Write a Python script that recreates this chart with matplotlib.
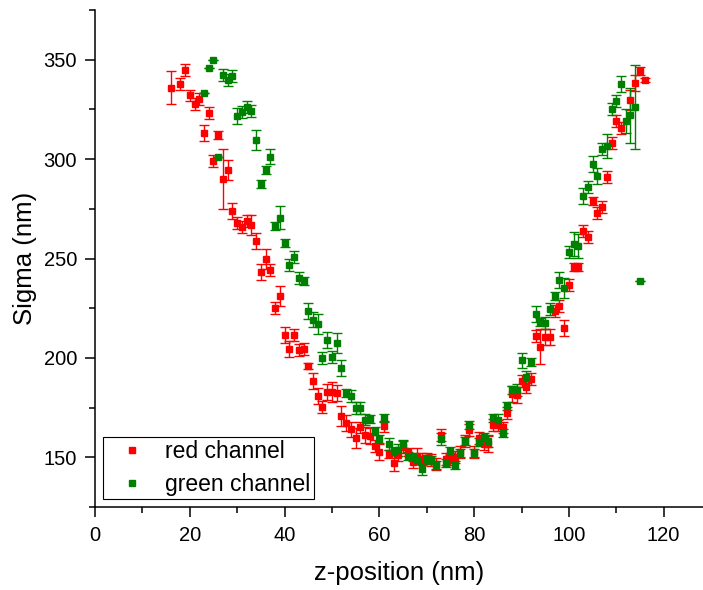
import numpy as np
import matplotlib.pyplot as plt

plt.rcParams['font.family'] = ['Liberation Sans', 'DejaVu Sans']

# red channel: z-position (nm), sigma (nm), error
red_z = [16, 18, 19, 20, 21, 22, 23, 24, 25, 26, 27, 28, 29, 30, 31, 32, 33, 34, 35, 36,
         37, 38, 39, 40, 41, 42, 43, 44, 45, 46, 47, 48, 49, 50, 51, 52, 53, 54, 55, 56,
         57, 58, 59, 60, 61, 62, 63, 64, 65, 66, 67, 68, 69, 70, 71, 72, 73, 74, 75, 76,
         77, 78, 79, 80, 81, 82, 83, 84, 85, 86, 87, 88, 89, 90, 91, 92, 93, 94, 95, 96,
         97, 98, 99, 100, 101, 102, 103, 104, 105, 106, 107, 108, 109, 110, 111, 113, 114, 115, 116]
red_sigma = [336, 338, 345, 332, 327.6, 330, 313, 323, 299, 312, 290, 294.7, 274, 268, 265.7, 269, 267, 259, 243, 249.6,
             244, 225, 231, 211.4, 204.6, 211.7, 204, 204.6, 196, 188.3, 181, 175.4, 183, 183, 182.4, 170.8, 167.4, 164, 159.5, 165,
             161, 160.8, 155.7, 152.8, 165.5, 151.7, 147.3, 151.3, 155.3, 152.7, 147.7, 150.8, 149, 149.4, 148.5, 146.4, 161, 149.3, 149.3, 150,
             152.7, 158, 163.5, 152.7, 159.7, 156.5, 156.5, 166.3, 166, 165, 172.5, 182, 181.5, 188.6, 185.4, 189.6, 210.8, 205.7, 210.4, 210.4,
             223.5, 226, 215, 236.7, 245.5, 245.5, 264, 260.6, 279, 272.7, 275.8, 291, 308, 319.3, 315.5, 329.7, 338.3, 344.5, 340]
red_err = [8.5, 3, 3, 3, 3, 3, 4, 3, 3, 2, 15, 5, 4, 3, 3, 3, 5, 4, 4, 5,
           3, 3, 5, 4, 4, 3, 3, 3, 1.5, 4, 4, 3, 4, 5, 4, 5, 4, 4, 5, 3,
           4, 4, 3, 4, 3, 2, 4, 3, 3, 2, 3, 4, 3, 3, 3, 3, 3, 3, 3, 3,
           3, 3, 3, 3, 3, 3, 4, 3, 3, 3, 3, 4, 4, 3, 3, 3, 3, 9, 4, 4,
           3, 3, 4, 3, 2, 2, 3, 3, 2, 3, 3, 3, 3, 3, 3, 5, 4, 2, 1]

# green channel
green_z = [23, 24, 25, 26, 27, 28, 29, 30, 31, 32, 33, 34, 35, 36, 37, 38, 39, 40, 41, 42,
           43, 44, 45, 46, 47, 48, 49, 50, 51, 52, 53, 54, 55, 56, 57, 58, 59, 60, 61, 62,
           63, 64, 65, 66, 67, 68, 69, 70, 71, 72, 73, 74, 75, 76, 77, 78, 79, 80, 81, 82,
           83, 84, 85, 86, 87, 88, 89, 90, 91, 92, 93, 94, 95, 96, 97, 98, 99, 100, 101, 102,
           103, 104, 105, 106, 107, 108, 109, 110, 111, 112, 113, 114, 115]
green_sigma = [333, 346, 350, 301.3, 342.4, 339.8, 341.7, 321.6, 323.7, 326.3, 324, 309.5, 287.5, 294.3, 301.3, 266.3, 270.6, 257.8, 246.8, 250.8,
               240.3, 238.6, 223.5, 219.3, 216.9, 200, 209, 200.6, 207.6, 194.9, 182.2, 180.7, 175, 174.8, 169, 169.3, 163.3, 159.3, 170, 156.5,
               153, 153.6, 156.5, 150.8, 150, 148.5, 144.3, 149, 148.5, 146, 159.3, 147, 153.2, 146, 152.3, 158, 166.3, 152.3, 157.8, 160.2,
               158.3, 169.7, 169, 162, 175.8, 183.7, 184, 198.7, 190.5, 198, 222.3, 218, 217.4, 224.6, 231, 239, 235, 253.4, 257.2, 256.3,
               281.4, 285.8, 297.5, 291.3, 305, 306.6, 325.4, 329, 338, 319, 322, 326.3, 238.6]
green_err = [0, 0, 0, 0, 3, 3, 3, 4, 3, 3, 3, 5, 2, 2, 4, 2, 6, 2, 3, 3,
             3, 2, 4, 4, 5, 3, 4, 3, 5, 4, 2, 3, 3, 3, 3, 2, 2, 2, 2, 3,
             2, 3, 2, 2, 2, 2, 3, 2, 2, 2, 3, 2, 2, 2, 2, 2, 2, 2, 2, 2,
             3, 2, 3, 2, 2, 2, 3, 4, 3, 2, 4, 2, 3, 3, 2, 4, 5, 3, 6, 6,
             4, 3, 4, 4, 3, 6, 3, 3, 4, 6, 14, 21, 0]

fig = plt.figure(figsize=(7.03, 5.9), dpi=100)
ax = fig.add_axes([95 / 703, 83 / 590, 608 / 703, 497 / 590])

red = ax.errorbar(red_z, red_sigma, yerr=red_err, fmt='s', color='#ff0000', ms=5,
                  elinewidth=1, capsize=3.5, capthick=1)
green = ax.errorbar(green_z, green_sigma, yerr=green_err, fmt='s', color='#008000', ms=5,
                    elinewidth=1, capsize=3.5, capthick=1)

ax.set_xlim(0, 128.3)
ax.set_ylim(125, 375)
ax.set_xticks([0, 20, 40, 60, 80, 100, 120])
ax.set_xticks(np.arange(10, 128, 20), minor=True)
ax.set_yticks([150, 200, 250, 300, 350])
ax.set_yticks([125, 175, 225, 275, 325, 375], minor=True)

for s in ['top', 'right']:
    ax.spines[s].set_visible(False)
for s in ['left', 'bottom']:
    ax.spines[s].set_linewidth(1.1)
ax.tick_params(which='major', direction='out', length=7, width=1.1, labelsize=14.5)
ax.tick_params(axis='y', which='major', pad=6)
ax.tick_params(axis='x', which='major', pad=7)
ax.tick_params(which='minor', direction='out', length=4, width=1.1)

ax.set_xlabel('z-position (nm)', fontsize=18.5, labelpad=11)
ax.set_ylabel('Sigma (nm)', fontsize=18.5, labelpad=4.5)

# legend shows only the square markers
leg = ax.legend([red[0], green[0]], ['red channel', 'green channel'], loc='lower left',
                fontsize=16.5, fancybox=False, edgecolor='black', handlelength=2.2,
                handletextpad=0.35, borderaxespad=0.35, borderpad=0.15,
                labelspacing=0.4, framealpha=1)
leg.get_frame().set_linewidth(0.8)

fig.savefig('out.png', dpi=100)
